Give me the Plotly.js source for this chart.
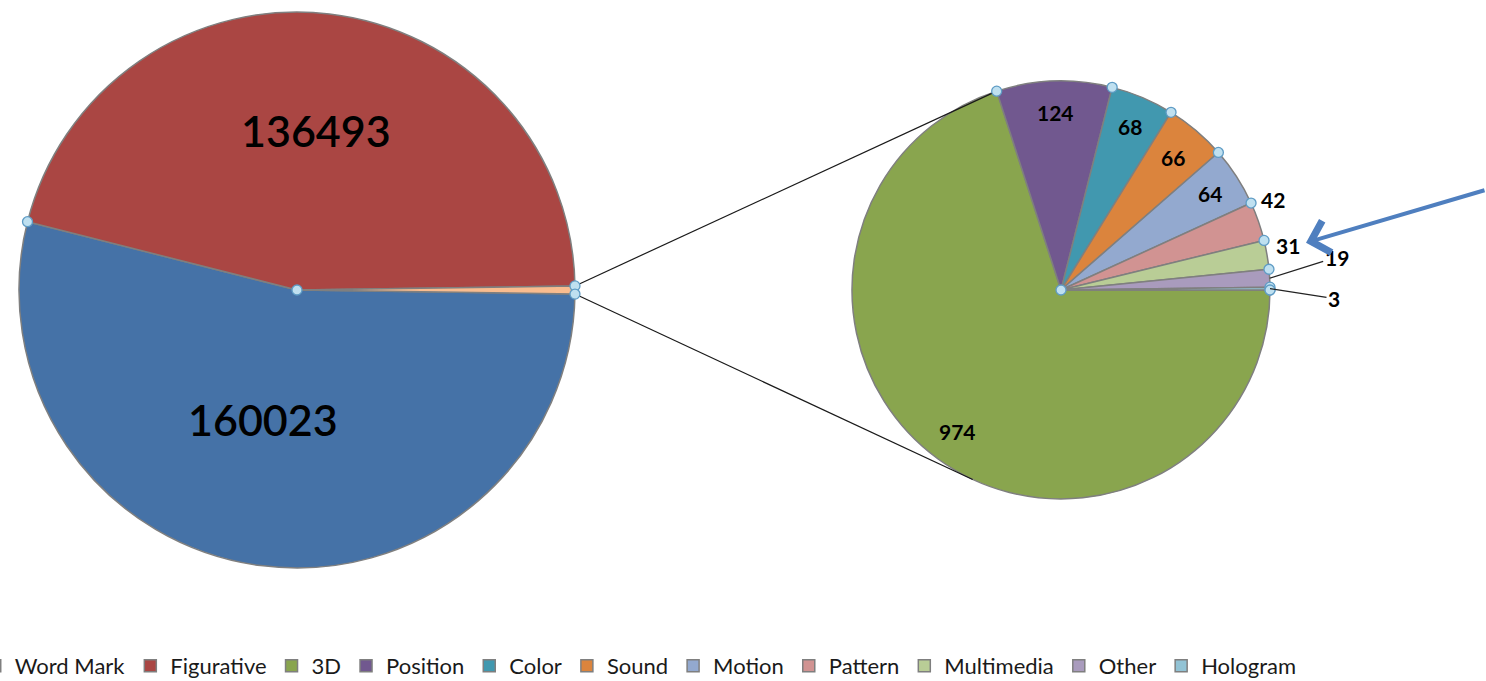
<!DOCTYPE html>
<html><head><meta charset="utf-8">
<script src="https://cdn.plot.ly/plotly-3.0.1.min.js"></script>
<style>html,body{margin:0;padding:0;background:#fff;} #chart{width:1486px;height:681px;}</style>
</head><body><div id="chart"></div>
<script>
// ---- data ----
const mainLabels = ['Word Mark', 'Figurative'];
const mainValues = [160023, 136493];
const detailLabels = ['3D', 'Position', 'Color', 'Sound', 'Motion', 'Pattern', 'Multimedia', 'Other', 'Hologram'];
const detailValues = [974, 124, 68, 66, 64, 42, 31, 19, 3];

// ---- styles ----
const mainColors = ['#4572A7', '#AA4643'];
const aggColor = '#F9BC8F';
const detailColors = ['#89A54E', '#71588F', '#4198AF', '#DB843D', '#93A9CF', '#D19392', '#B9CD96', '#A99BBD', '#92C3D5'];
const W = 1486, H = 681, MB = 40, HP = H - MB;
const LG = {cx: 297, cy: 290, r: 278};
const RG = {cx: 1061, cy: 290, r: 209};
// label placement (radius fraction, x shift, y shift) for right pie
const rLabelF = [0.84, 0.85, 0.85, 0.83, 0.85, 1.0, 1.0, 1.0, 1.0];
const rLabelDx = [0, 0, 0, 0, 0, 15, 21, 67, 64];
const rLabelDy = [0, 0, 0, 0, 0, -22, -9, -21, 10];
const rLabelArrow = [false, false, false, false, false, false, false, true, true];

function dom(g) { return {x: [(g.cx - g.r) / W, (g.cx + g.r) / W], y: [1 - (g.cy + g.r) / HP, 1 - (g.cy - g.r) / HP]}; }
function pt(g, a, f) { const t = a * Math.PI / 180; return [g.cx + g.r * f * Math.sin(t), g.cy - g.r * f * Math.cos(t)]; }
function px(p) { return p[0] / W; }
function py(p) { return 1 - p[1] / HP; }
const sum = arr => arr.reduce((a, b) => a + b, 0);

const aggSum = sum(detailValues);
const leftVals = mainValues.concat([aggSum]);
const leftTotal = sum(leftVals);
const leftRot = 90 + aggSum / leftTotal * 180;
const rightRot = 90;

function bounds(vals, rot) {
  const tot = sum(vals); const b = [rot]; let c = 0;
  vals.forEach(v => { c += v; b.push(rot + 360 * c / tot); });
  return b;
}
const lB = bounds(leftVals, leftRot);
const rB = bounds(detailValues, rightRot);

const traces = [
  {
    type: 'pie', sort: false, direction: 'clockwise', rotation: leftRot,
    labels: mainLabels.concat(['Other types']), values: leftVals,
    marker: {colors: mainColors.concat([aggColor]), line: {color: '#7F7F7F', width: 1.5}},
    textinfo: 'none', hoverinfo: 'label+value', showlegend: false,
    domain: dom(LG)
  },
  {
    type: 'pie', sort: false, direction: 'clockwise', rotation: rightRot,
    labels: mainLabels.concat(detailLabels), values: mainValues.map(() => 0).concat(detailValues),
    marker: {colors: mainColors.concat(detailColors), line: {color: '#7F7F7F', width: 1.5}},
    textinfo: 'none', hoverinfo: 'label+value', showlegend: true,
    domain: dom(RG)
  }
];

const annotations = [];
// left labels
[0, 1].forEach(i => {
  const mid = (lB[i] + lB[i + 1]) / 2;
  const f = [0.47, 0.577][i];
  const p = pt(LG, mid, f);
  annotations.push({xref: 'paper', yref: 'paper', x: px(p), y: py(p), xanchor: 'center', yanchor: 'middle',
    xshift: [-17, 0][i], showarrow: false,
    text: String(mainValues[i]), font: {family: 'Lato, sans-serif', size: 43, color: '#000', weight: 600}});
});
// right labels
detailValues.forEach((v, i) => {
  const mid = (rB[i] + rB[i + 1]) / 2;
  const p = pt(RG, mid, rLabelF[i]);
  const a = {xref: 'paper', yref: 'paper', x: px(p), y: py(p), text: String(v),
    font: {family: 'Lato, sans-serif', size: 21, color: '#000', weight: 'bold'}};
  if (rLabelArrow[i]) {
    Object.assign(a, {showarrow: true, arrowhead: 0, arrowwidth: 1.2, arrowcolor: '#222', ax: rLabelDx[i], ay: rLabelDy[i], standoff: 0});
  } else {
    Object.assign(a, {showarrow: false, xanchor: 'center', yanchor: 'middle', xshift: rLabelDx[i], yshift: -rLabelDy[i]});
  }
  annotations.push(a);
});
// blue call-out arrow pointing at the Multimedia value
{
  const mid = (rB[6] + rB[7]) / 2;
  const p = pt(RG, mid, 1.0);
  const head = [p[0] + rLabelDx[6] + 18, p[1] + rLabelDy[6] - 3];
  annotations.push({xref: 'paper', yref: 'paper', x: px(head), y: py(head), text: '', showarrow: true,
    arrowhead: 4, arrowsize: 1.6, arrowwidth: 4, arrowcolor: '#4F7FBF', ax: W - head[0], ay: -53, standoff: 0});
}

// connector lines
const shapes = [];
{
  const a1 = pt(LG, lB[2], 1), b1 = pt(RG, rB[1], 1);
  const a2 = pt(LG, lB[0], 1);
  const dx = a2[0] - RG.cx, dy = a2[1] - RG.cy, d = Math.hypot(dx, dy);
  const th = Math.acos(RG.r / d); const ux = dx / d, uy = dy / d;
  const c1 = [RG.cx + RG.r * (ux * Math.cos(th) - uy * Math.sin(th)), RG.cy + RG.r * (ux * Math.sin(th) + uy * Math.cos(th))];
  const c2 = [RG.cx + RG.r * (ux * Math.cos(-th) - uy * Math.sin(-th)), RG.cy + RG.r * (ux * Math.sin(-th) + uy * Math.cos(-th))];
  const b2 = c1[1] > c2[1] ? c1 : c2;
  [[a1, b1], [a2, b2]].forEach(([p, q]) => shapes.push({type: 'line', xref: 'paper', yref: 'paper',
    x0: px(p), y0: py(p), x1: px(q), y1: py(q), line: {color: '#1a1a1a', width: 1.2}}));
}
// selection handles at slice corners
function handle(p) {
  shapes.push({type: 'circle', xref: 'paper', yref: 'paper', xsizemode: 'pixel', ysizemode: 'pixel',
    xanchor: px(p), yanchor: py(p), x0: -5, x1: 5, y0: -5, y1: 5,
    fillcolor: '#BFE0F0', line: {color: '#5F9CC5', width: 1.3}});
}
handle([LG.cx, LG.cy]);
lB.slice(1).forEach(a => handle(pt(LG, a, 1)));
handle([RG.cx, RG.cy]);
rB.forEach(a => handle(pt(RG, a, 1)));

const layout = {
  width: W, height: H,
  margin: {l: 0, r: 0, t: 0, b: MB, autoexpand: false},
  paper_bgcolor: '#fff', plot_bgcolor: '#fff',
  showlegend: true,
  legend: {orientation: 'h', x: -0.017, xanchor: 'left', y: (HP - 666) / HP, yanchor: 'middle',
    font: {family: 'Lato, sans-serif', size: 22, color: '#1a1a1a'}, itemwidth: 30, traceorder: 'normal'},
  annotations: annotations, shapes: shapes
};
Plotly.newPlot('chart', traces, layout, {displayModeBar: false, staticPlot: true});
</script>
</body></html>
